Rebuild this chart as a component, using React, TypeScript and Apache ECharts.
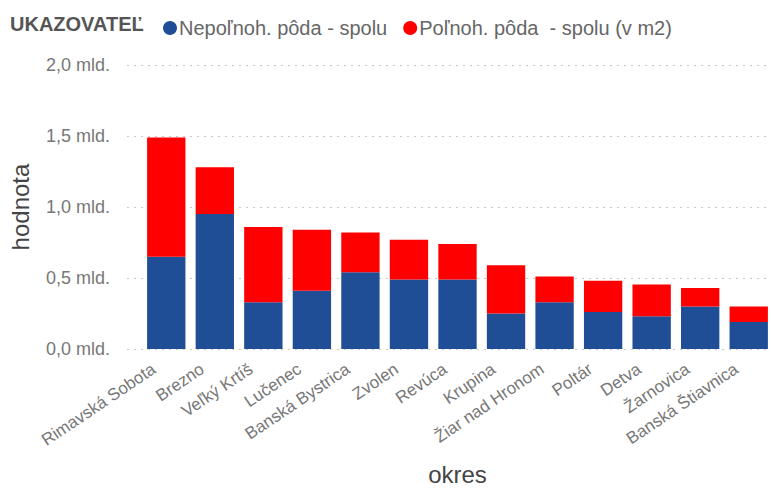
import React, { useEffect, useRef } from "react";
import * as echarts from "echarts";

const categories = [
  "Rimavská Sobota",
  "Brezno",
  "Veľký Krtíš",
  "Lučenec",
  "Banská Bystrica",
  "Zvolen",
  "Revúca",
  "Krupina",
  "Žiar nad Hronom",
  "Poltár",
  "Detva",
  "Žarnovica",
  "Banská Štiavnica",
];

// values in billions (mld.) of m2
const nepolnohPoda = [0.65, 0.95, 0.33, 0.41, 0.54, 0.49, 0.49, 0.25, 0.33, 0.26, 0.23, 0.3, 0.19];
const polnohPoda = [0.84, 0.33, 0.53, 0.43, 0.28, 0.28, 0.25, 0.34, 0.18, 0.22, 0.225, 0.13, 0.11];

const seriesNames = ["Nepoľnoh. pôda - spolu", "Poľnoh. pôda  - spolu (v m2)"];
const seriesColors = ["#1F4E97", "#FF0000"];
const legendTitle = "UKAZOVATEĽ";
const yAxisName = "hodnota";
const xAxisName = "okres";
const yMin = 0;
const yMax = 2;
const yInterval = 0.5;

const FONT = "'Liberation Sans', Arial, sans-serif";

export default function App() {
  const ref = useRef<HTMLDivElement>(null);
  useEffect(() => {
    if (!ref.current) return;
    const chart = echarts.init(ref.current, undefined, { renderer: "svg" });
    const fmt = (v: number) => v.toFixed(1).replace(".", ",") + " mld.";
    chart.setOption({
      animation: false,
      backgroundColor: "#ffffff",
      textStyle: { fontFamily: FONT },
      graphic: [
        {
          type: "text",
          left: 10,
          top: 14,
          style: {
            text: legendTitle,
            font: `bold 20px ${FONT}`,
            fill: "#555555",
          },
        },
      ],
      legend: {
        left: 158,
        top: 13,
        icon: "circle",
        itemWidth: 14,
        itemHeight: 14,
        itemGap: 16,
        textStyle: { fontSize: 20, color: "#666666", fontFamily: FONT, padding: [0, 0, 0, -3] },
        data: seriesNames,
      },
      grid: [
        { left: 127, right: 0, top: 65, bottom: 144, containLabel: false, outerBoundsMode: "none" },
        { left: 142, width: 631, top: 65, bottom: 144, containLabel: false, outerBoundsMode: "none" },
      ],
      xAxis: [
        { type: "category", gridIndex: 0, show: false, data: categories },
        {
          type: "category",
          gridIndex: 1,
          data: categories,
          axisLine: { show: false },
          axisTick: { show: false },
          axisLabel: {
            interval: 0,
            rotate: 34,
            fontSize: 17,
            color: "#777777",
            margin: 10,
            padding: [0, 15, 0, 0],
            fontFamily: FONT,
          },
          name: xAxisName,
          nameLocation: "middle",
          nameGap: 113,
          nameTextStyle: { fontSize: 24, color: "#444444", fontFamily: FONT },
        },
      ],
      yAxis: [
        {
          type: "value",
          gridIndex: 0,
          min: yMin,
          max: yMax,
          interval: yInterval,
          axisLine: { show: false },
          axisTick: { show: false },
          splitLine: { lineStyle: { type: [2, 5], color: "#c8c8c8", width: 1 } },
          axisLabel: { fontSize: 18, color: "#777777", margin: 17, formatter: fmt, fontFamily: FONT },
          name: yAxisName,
          nameLocation: "middle",
          nameRotate: 90,
          nameGap: 95,
          nameTextStyle: { fontSize: 24, color: "#444444", fontFamily: FONT },
        },
        {
          type: "value",
          gridIndex: 1,
          min: yMin,
          max: yMax,
          interval: yInterval,
          show: false,
          splitLine: { show: false },
        },
      ],
      series: [
        {
          name: seriesNames[0],
          type: "bar",
          stack: "total",
          xAxisIndex: 1,
          yAxisIndex: 1,
          barCategoryGap: "21%",
          itemStyle: { color: seriesColors[0] },
          data: nepolnohPoda,
        },
        {
          name: seriesNames[1],
          type: "bar",
          stack: "total",
          xAxisIndex: 1,
          yAxisIndex: 1,
          barCategoryGap: "21%",
          itemStyle: { color: seriesColors[1] },
          data: polnohPoda,
        },
      ],
    });
    return () => chart.dispose();
  }, []);
  return (
    <div
      ref={ref}
      style={{ position: "absolute", left: 0, top: 0, width: 771, height: 493 }}
    />
  );
}
